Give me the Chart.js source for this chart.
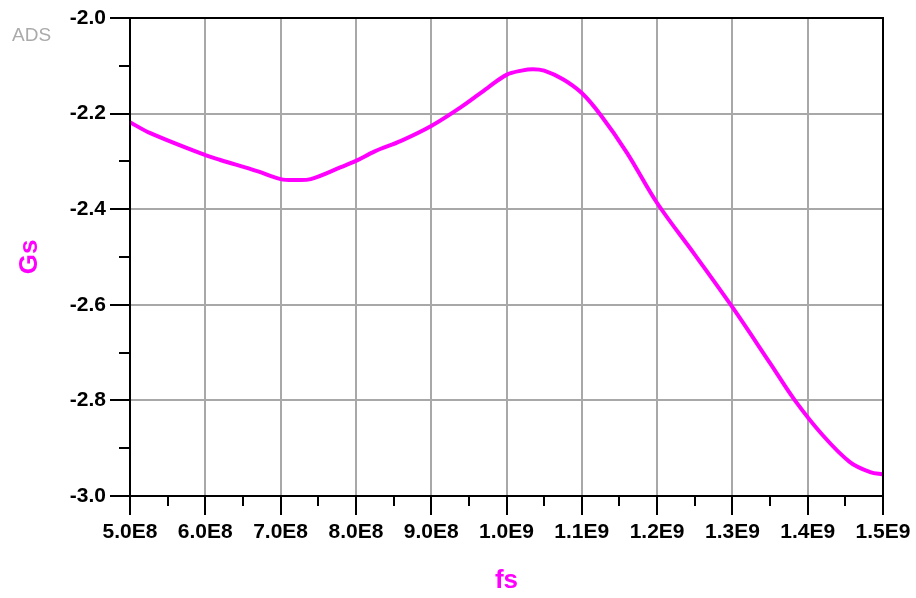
<!DOCTYPE html>
<html>
<head>
<meta charset="utf-8">
<script src="https://cdn.jsdelivr.net/npm/chart.js@4"></script>
<style>
  html, body { margin: 0; padding: 0; background: #fff; }
  #wrap { width: 916px; height: 598px; }
</style>
</head>
<body>
<div id="wrap"><canvas id="chart" width="916" height="598"></canvas></div>
<script>
/* ======================
   DATA
====================== */
const freqs = [
  5.00e8, 5.27e8, 6.00e8, 6.20e8, 6.70e8, 7.00e8, 7.20e8, 7.40e8, 7.80e8, 8.00e8,
  8.25e8, 8.60e8, 9.00e8, 9.40e8, 9.75e8, 1.00e9, 1.02e9, 1.035e9, 1.05e9, 1.075e9,
  1.10e9, 1.125e9, 1.16e9, 1.20e9, 1.25e9, 1.30e9, 1.35e9, 1.383e9, 1.42e9,
  1.456e9, 1.483e9, 1.50e9
]
const gs = [
  -2.218, -2.241, -2.287, -2.297, -2.321, -2.337, -2.339, -2.337, -2.312, -2.299,
  -2.279, -2.257, -2.226, -2.186, -2.146, -2.119, -2.110, -2.107, -2.110, -2.128,
  -2.157, -2.203, -2.282, -2.387, -2.495, -2.605, -2.722, -2.800, -2.873,
  -2.929, -2.950, -2.955
]
const xTicks = [5e8, 6e8, 7e8, 8e8, 9e8, 1e9, 1.1e9, 1.2e9, 1.3e9, 1.4e9, 1.5e9]
const yTicks = [-3.0, -2.8, -2.6, -2.4, -2.2, -2.0]

const MAGENTA = "#ff00ff"
const FONT = "'Liberation Sans', Arial, sans-serif"

const fmtE = (v) => {
  const exp = Math.floor(Math.log10(v) + 1e-9)
  const m = Math.round(v / Math.pow(10, exp) * 10) / 10
  return `${m.toFixed(1)}E${exp}`
}

/* ---------- frame, minor ticks, ADS mark ---------- */
const extras = {
  id: "extras",
  afterDraw(chart) {
    const { ctx, chartArea: a, scales } = chart
    ctx.save()
    ctx.strokeStyle = "#000"
    ctx.lineWidth = 2
    ctx.strokeRect(a.left, a.top, a.right - a.left, a.bottom - a.top)

    // minor ticks halfway between majors
    ctx.beginPath()
    for (let i = 0; i < xTicks.length - 1; i++) {
      const px = Math.round(scales.x.getPixelForValue((xTicks[i] + xTicks[i + 1]) / 2))
      ctx.moveTo(px, a.bottom)
      ctx.lineTo(px, a.bottom + 10)
    }
    for (let i = 0; i < yTicks.length - 1; i++) {
      const py = Math.round(scales.y.getPixelForValue((yTicks[i] + yTicks[i + 1]) / 2))
      ctx.moveTo(a.left, py)
      ctx.lineTo(a.left - 11, py)
    }
    ctx.stroke()

    ctx.fillStyle = "#aaaaaa"
    ctx.font = `19px ${FONT}`
    ctx.textBaseline = "middle"
    ctx.fillText("ADS", 12, 36)
    ctx.restore()
  }
}

new Chart(document.getElementById("chart"), {
  type: "line",
  data: {
    datasets: [{
      data: freqs.map((f, i) => ({ x: f, y: gs[i] })),
      borderColor: MAGENTA,
      borderWidth: 4,
      pointRadius: 0,
      tension: 0.35,
      fill: false
    }]
  },
  options: {
    responsive: false,
    animation: false,
    layout: { padding: { left: 0, top: 18, right: 33, bottom: 0 } },
    plugins: { legend: { display: false }, tooltip: { enabled: false } },
    scales: {
      x: {
        type: "linear",
        min: 5e8,
        max: 1.5e9,
        afterBuildTicks: (s) => { s.ticks = xTicks.map(v => ({ value: v })) },
        afterFit: (s) => { s.height = 102 },
        ticks: {
          autoSkip: false,
          maxRotation: 0,
          padding: 5,
          color: "#000",
          font: { family: FONT, size: 21, weight: "bold" },
          callback: (v) => fmtE(v)
        },
        grid: { color: "#a8a8a8", lineWidth: 2, tickColor: "#000", tickWidth: 2, tickLength: 19 },
        border: { display: true, color: "#000", width: 2 },
        title: {
          display: true,
          text: "fs",
          color: MAGENTA,
          padding: { top: 0, bottom: 2 },
          font: { family: FONT, size: 26, weight: "bold" }
        }
      },
      y: {
        min: -3,
        max: -2,
        afterBuildTicks: (s) => { s.ticks = yTicks.map(v => ({ value: v })) },
        afterFit: (s) => { s.width = 130 },
        ticks: {
          padding: 4,
          color: "#000",
          font: { family: FONT, size: 21, weight: "bold" },
          callback: (v) => v.toFixed(1)
        },
        grid: { color: "#a8a8a8", lineWidth: 2, tickColor: "#000", tickWidth: 2, tickLength: 20 },
        border: { display: true, color: "#000", width: 2 },
        title: {
          display: true,
          text: "Gs",
          color: MAGENTA,
          padding: { top: 14, bottom: 0 },
          font: { family: FONT, size: 26, weight: "bold" }
        }
      }
    }
  },
  plugins: [extras]
})
</script>
</body>
</html>
